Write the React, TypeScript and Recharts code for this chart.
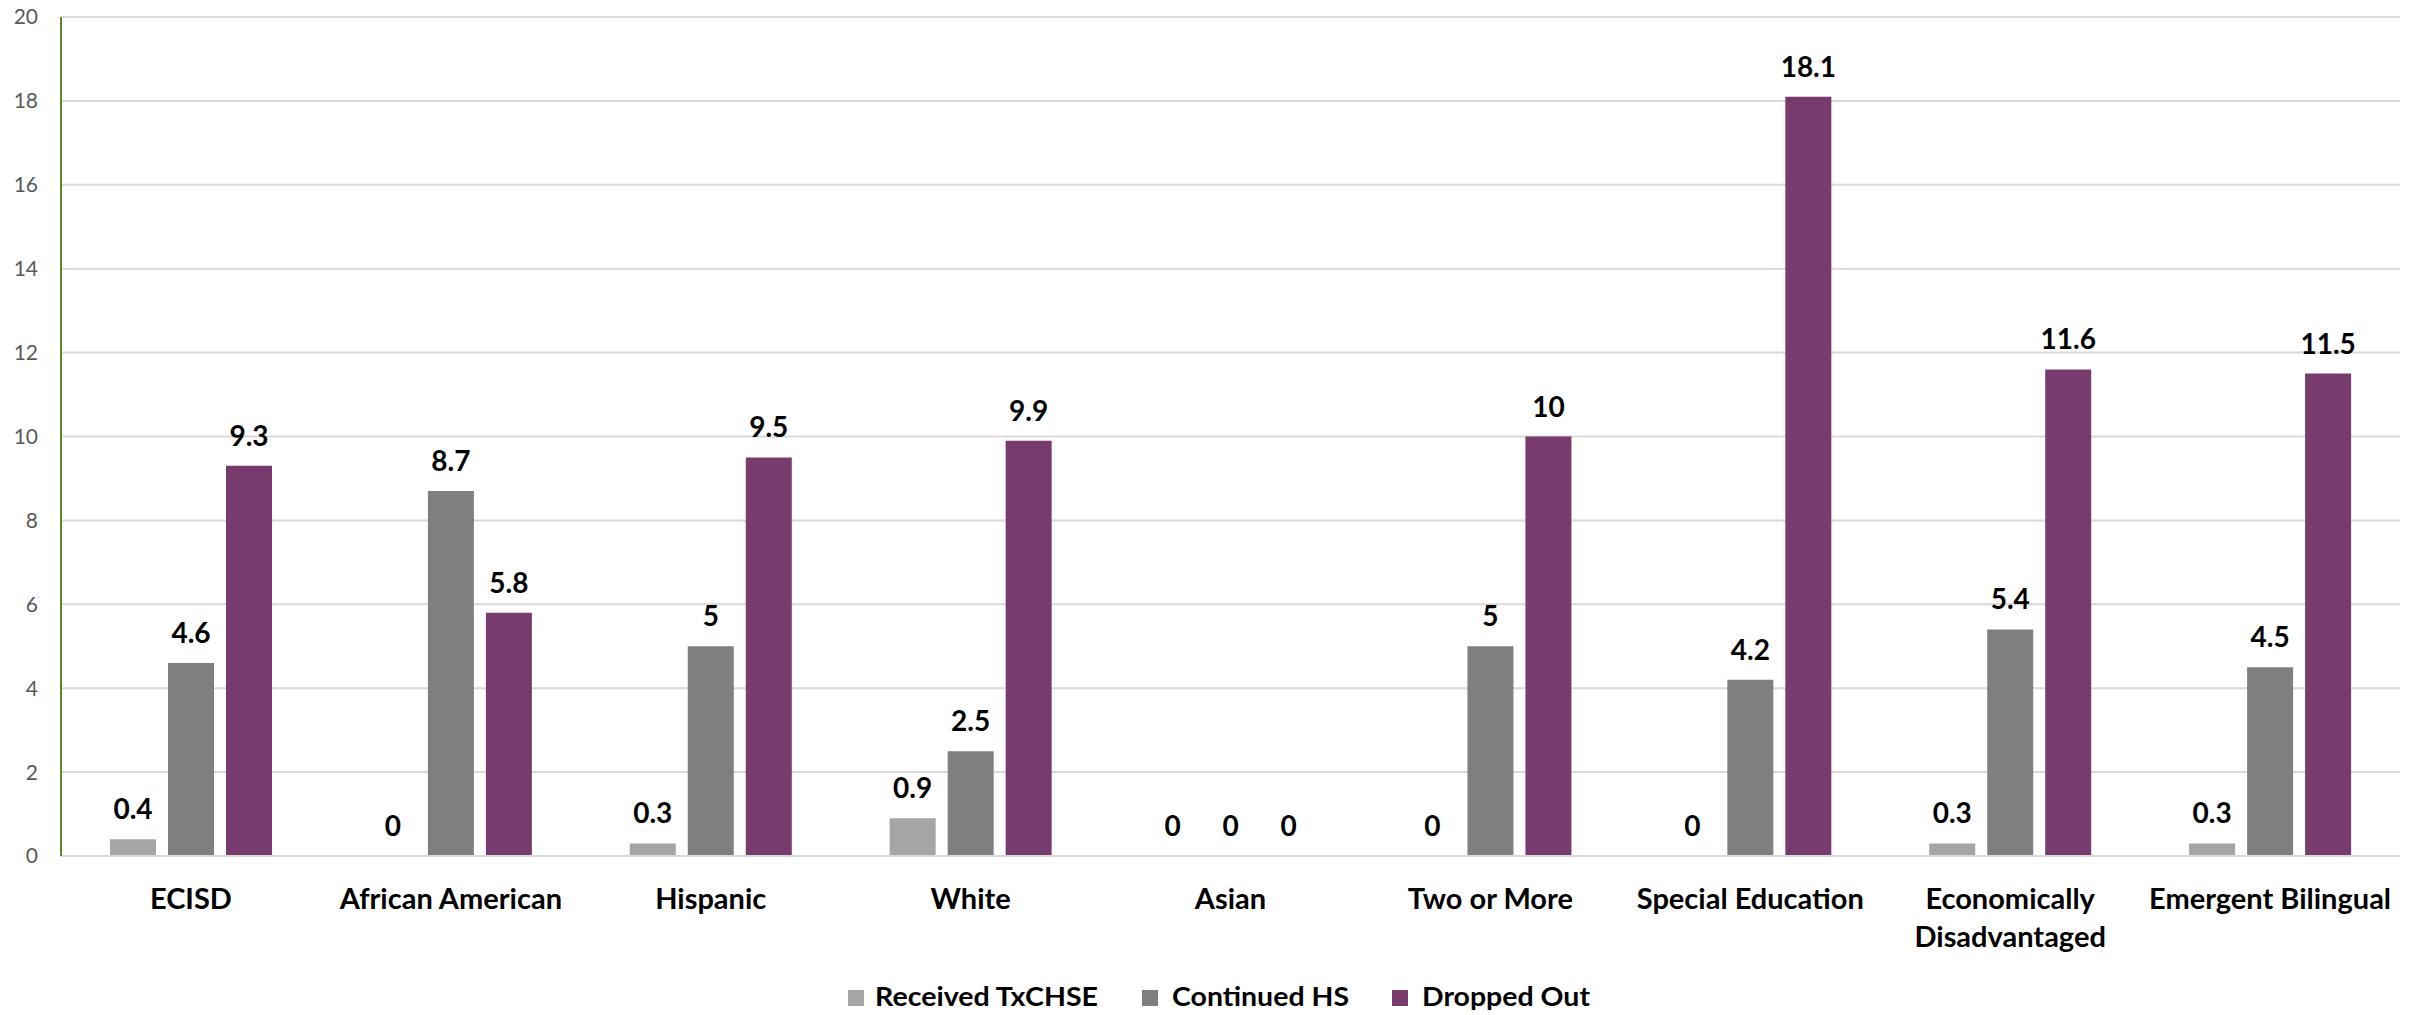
import { BarChart, Bar, XAxis, YAxis, CartesianGrid, LabelList } from 'recharts';

const CATEGORIES = [
  'ECISD',
  'African American',
  'Hispanic',
  'White',
  'Asian',
  'Two or More',
  'Special Education',
  'Economically Disadvantaged',
  'Emergent Bilingual',
];
const RECEIVED_TXCHSE = [0.4, 0, 0.3, 0.9, 0, 0, 0, 0.3, 0.3];
const CONTINUED_HS = [4.6, 8.7, 5, 2.5, 0, 5, 4.2, 5.4, 4.5];
const DROPPED_OUT = [9.3, 5.8, 9.5, 9.9, 0, 10, 18.1, 11.6, 11.5];
const Y_TICKS = [0, 2, 4, 6, 8, 10, 12, 14, 16, 18, 20];

const SERIES = [
  { key: 'received', name: 'Received TxCHSE', color: '#A5A5A5' },
  { key: 'continued', name: 'Continued HS', color: '#7F7F7F' },
  { key: 'dropped', name: 'Dropped Out', color: '#783B6D' },
];

const data = CATEGORIES.map((name, i) => ({
  name,
  received: RECEIVED_TXCHSE[i],
  continued: CONTINUED_HS[i],
  dropped: DROPPED_OUT[i],
}));

const FONT = 'Lato, "Open Sans", sans-serif';

// split long labels onto two lines, like the spreadsheet does
const CategoryTick = ({ x, y, payload }: any) => {
  const label: string = payload.value;
  let lines = [label];
  if (label.length > 20) {
    const words = label.split(' ');
    const half = Math.ceil(words.length / 2);
    lines = [words.slice(0, half).join(' '), words.slice(half).join(' ')];
  }
  return (
    <text
      x={x}
      y={y + 51}
      textAnchor="middle"
      fill="#000"
      fontSize={29}
      fontWeight={700}
      fontFamily={FONT}
    >
      {lines.map((l, i) => (
        <tspan key={i} x={x} dy={i === 0 ? 0 : 38}>
          {l}
        </tspan>
      ))}
    </text>
  );
};

// value label above each bar (also for the zero bars)
const ValueLabel = (props: any) => {
  const vb = props.viewBox || props;
  const { x, y, width } = vb;
  if (x == null || y == null) return null;
  return (
    <text
      x={x + width / 2}
      y={y - 20}
      textAnchor="middle"
      fill="#000"
      fontSize={28}
      fontWeight={700}
      fontFamily={FONT}
    >
      {props.value}
    </text>
  );
};

const LEGEND_POS = [
  { sq: 848, tx: 875, w: 223 },
  { sq: 1142, tx: 1172, w: 177 },
  { sq: 1392, tx: 1422, w: 168 },
];

export default function App() {
  return (
    <div style={{ position: 'absolute', left: 0, top: 0, width: 2425, height: 1015, background: '#fff', overflow: 'hidden' }}>
      <BarChart
        width={2425}
        height={1015}
        data={data}
        margin={{ top: 17, right: 25, bottom: 99, left: 0 }}
        barSize={46}
        barGap={12}
      >
        <CartesianGrid vertical={false} stroke="#D9D9D9" strokeWidth={2} />
        <XAxis
          dataKey="name"
          height={60}
          tickLine={false}
          tickSize={0}
          axisLine={{ stroke: '#D9D9D9', strokeWidth: 2 }}
          tick={<CategoryTick />}
          interval={0}
        />
        <YAxis
          width={61}
          domain={[0, 20]}
          ticks={Y_TICKS}
          tickLine={false}
          tickSize={0}
          tickMargin={23}
          axisLine={{ stroke: '#5E8732', strokeWidth: 2 }}
          tick={{ fill: '#595959', fontSize: 21, fontFamily: FONT }}
        />
        {SERIES.map((s) => (
          <Bar
            key={s.key}
            dataKey={s.key}
            name={s.name}
            fill={s.color}
            minPointSize={(v: number) => (v === 0 ? 0.01 : 0)}
            isAnimationActive={false}
          >
            <LabelList dataKey={s.key} position="top" content={<ValueLabel />} />
          </Bar>
        ))}
      </BarChart>
      <svg width={2425} height={35} style={{ position: 'absolute', left: 0, top: 978 }}>
        {SERIES.map((s, i) => (
          <g key={s.key}>
            <rect x={LEGEND_POS[i].sq} y={12} width={16} height={16} fill={s.color} />
            <text
              x={LEGEND_POS[i].tx}
              y={28}
              textLength={LEGEND_POS[i].w}
              lengthAdjust="spacingAndGlyphs"
              fontSize={26}
              fontWeight={700}
              fontFamily={FONT}
              fill="#000"
            >
              {s.name}
            </text>
          </g>
        ))}
      </svg>
    </div>
  );
}
